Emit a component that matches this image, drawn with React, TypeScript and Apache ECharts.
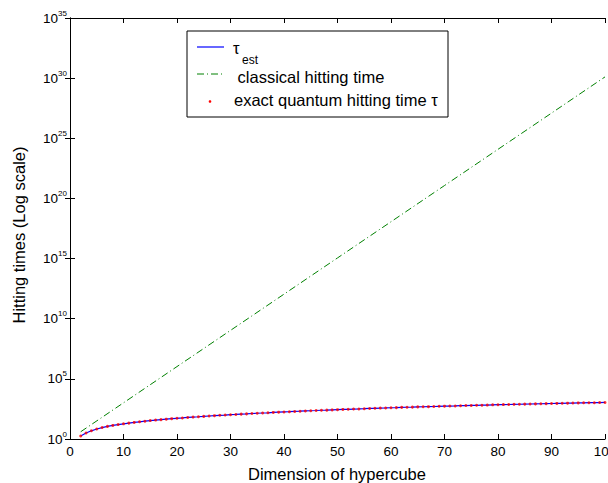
import React, { useEffect, useRef } from "react";
import * as echarts from "echarts";

const FONT = "'Liberation Sans', Arial, Helvetica, sans-serif";

// dimension n = 2..100
const dims: number[] = Array.from({ length: 99 }, (_, i) => i + 2);

// exact quantum hitting time τ (log scale)
const tauExact: number[] = [
  1.78, 3.16, 4.79, 6.76, 8.91, 11.2, 13.5, 15.8, 18.2, 20.9,
  24.0, 26.9, 30.2, 33.9, 37.2, 40.7, 44.7, 49.0, 52.5, 56.2,
  61.7, 66.1, 70.8, 75.9, 81.3, 87.1, 93.3, 97.7, 105, 110,
  117, 123, 132, 138, 145, 151, 162, 170, 178, 186,
  195, 204, 214, 224, 234, 245, 251, 263, 275, 288,
  295, 309, 316, 331, 347, 355, 372, 380, 398, 407,
  427, 437, 447, 468, 479, 490, 501, 525, 537, 550,
  562, 589, 603, 617, 631, 646, 661, 692, 708, 724,
  741, 759, 776, 794, 813, 832, 851, 871, 891, 912,
  933, 955, 977, 1000, 1023, 1047, 1047, 1072, 1096,
];

// τ_est (coincides with the exact values in the picture)
const tauEst: number[] = tauExact.slice();

// classical hitting time (straight line on log scale)
const classicalDims: number[] = [2, 10, 20, 30, 40, 50, 60, 70, 80, 90, 100];
const classicalVals: number[] = [
  4, 1.02e3, 1.05e6, 1.07e9, 1.1e12, 1.13e15, 1.15e18, 1.18e21, 1.21e24, 1.24e27, 1.27e30,
];

const legendLabels = ["τ", "est", " classical hitting time", "exact quantum hitting time τ"];
const xTitle = "Dimension of hypercube";
const yTitle = "Hitting times (Log scale)";

export default function App() {
  const ref = useRef<HTMLDivElement>(null);

  useEffect(() => {
    if (!ref.current) return;
    const chart = echarts.init(ref.current, null, { renderer: "svg" });

    const tickStyle = { show: true, inside: true, length: 5, lineStyle: { color: "#000", width: 1 } };
    const lineStyle = { show: true, lineStyle: { color: "#000", width: 1 } };

    const yLabelFormatter = (v: number) => {
      const e = Math.round(Math.log10(v));
      return `{b|10}{s|${e}}`;
    };

    chart.setOption({
      animation: false,
      backgroundColor: "#fff",
      grid: { left: 70, right: 3, top: 18, bottom: 44, containLabel: false, outerBoundsMode: "none" },
      xAxis: [
        {
          type: "value",
          min: 0,
          max: 100,
          interval: 10,
          position: "bottom",
          axisLine: lineStyle,
          axisTick: tickStyle,
          splitLine: { show: false },
          axisLabel: { color: "#000", fontSize: 13.5, fontFamily: FONT, margin: 5, hideOverlap: false },
        },
        {
          type: "value",
          min: 0,
          max: 100,
          interval: 10,
          position: "top",
          axisLine: lineStyle,
          axisTick: tickStyle,
          splitLine: { show: false },
          axisLabel: { show: false },
        },
      ],
      yAxis: [
        {
          type: "log",
          logBase: 10,
          min: 1,
          max: 1e35,
          interval: 5,
          position: "left",
          axisLine: lineStyle,
          axisTick: tickStyle,
          minorTick: { show: false },
          splitLine: { show: false },
          axisLabel: {
            color: "#000",
            fontFamily: FONT,
            margin: 3,
            formatter: yLabelFormatter,
            rich: {
              b: { fontSize: 13.5, fontFamily: FONT, color: "#000" },
              s: { fontSize: 8, fontFamily: FONT, color: "#000", padding: [0, 0, 10, 0] },
            },
          },
        },
        {
          type: "log",
          logBase: 10,
          min: 1,
          max: 1e35,
          interval: 5,
          position: "right",
          axisLine: lineStyle,
          axisTick: tickStyle,
          splitLine: { show: false },
          axisLabel: { show: false },
        },
      ],
      series: [
        {
          name: "classical",
          type: "line",
          data: classicalDims.map((n, i) => [n, classicalVals[i]]),
          showSymbol: false,
          lineStyle: { color: "#008000", width: 1, type: [7, 3, 1, 3] },
          z: 2,
        },
        {
          name: "tau_est",
          type: "line",
          data: dims.map((n, i) => [n, tauEst[i]]),
          showSymbol: false,
          lineStyle: { color: "#0000ff", width: 1.2 },
          z: 3,
        },
        {
          name: "exact",
          type: "scatter",
          data: dims.map((n, i) => [n, tauExact[i]]),
          symbol: "circle",
          symbolSize: 3,
          itemStyle: { color: "#ff0000" },
          z: 4,
        },
      ],
      graphic: [
        {
          type: "rect",
          shape: { x: 187, y: 31, width: 261, height: 86 },
          style: { fill: "#fff", stroke: "#000", lineWidth: 1 },
          z: 10,
        },
        {
          type: "line",
          shape: { x1: 197, y1: 47, x2: 224, y2: 47 },
          style: { stroke: "#0000ff", lineWidth: 1.2 },
          z: 11,
        },
        {
          type: "text",
          x: 233,
          y: 48,
          style: { text: legendLabels[0], font: `16.5px ${FONT}`, fill: "#000", verticalAlign: "middle", textAlign: "left" },
          z: 11,
        },
        {
          type: "text",
          x: 242,
          y: 60,
          style: { text: legendLabels[1], font: `12px ${FONT}`, fill: "#000", verticalAlign: "middle", textAlign: "left" },
          z: 11,
        },
        {
          type: "line",
          shape: { x1: 197, y1: 74, x2: 224, y2: 74 },
          style: { stroke: "#008000", lineWidth: 1, lineDash: [7, 3, 1, 3] },
          z: 11,
        },
        {
          type: "text",
          x: 233,
          y: 77,
          style: { text: legendLabels[2], font: `16.5px ${FONT}`, fill: "#000", verticalAlign: "middle", textAlign: "left" },
          z: 11,
        },
        {
          type: "circle",
          shape: { cx: 210, cy: 101.5, r: 1.3 },
          style: { fill: "#ff0000" },
          z: 11,
        },
        {
          type: "text",
          x: 234,
          y: 100,
          style: { text: legendLabels[3], font: `16.5px ${FONT}`, fill: "#000", verticalAlign: "middle", textAlign: "left" },
          z: 11,
        },
        {
          type: "text",
          x: 337,
          y: 474,
          style: { text: xTitle, font: `16.5px ${FONT}`, fill: "#000", verticalAlign: "middle", textAlign: "center" },
        },
        {
          type: "text",
          x: 19,
          y: 235,
          rotation: Math.PI / 2,
          style: { text: yTitle, font: `16.5px ${FONT}`, fill: "#000", verticalAlign: "middle", textAlign: "center" },
        },
      ],
    });

    return () => chart.dispose();
  }, []);

  return (
    <div
      ref={ref}
      style={{ position: "fixed", left: 0, top: 0, width: 608, height: 483, background: "#fff" }}
    />
  );
}
